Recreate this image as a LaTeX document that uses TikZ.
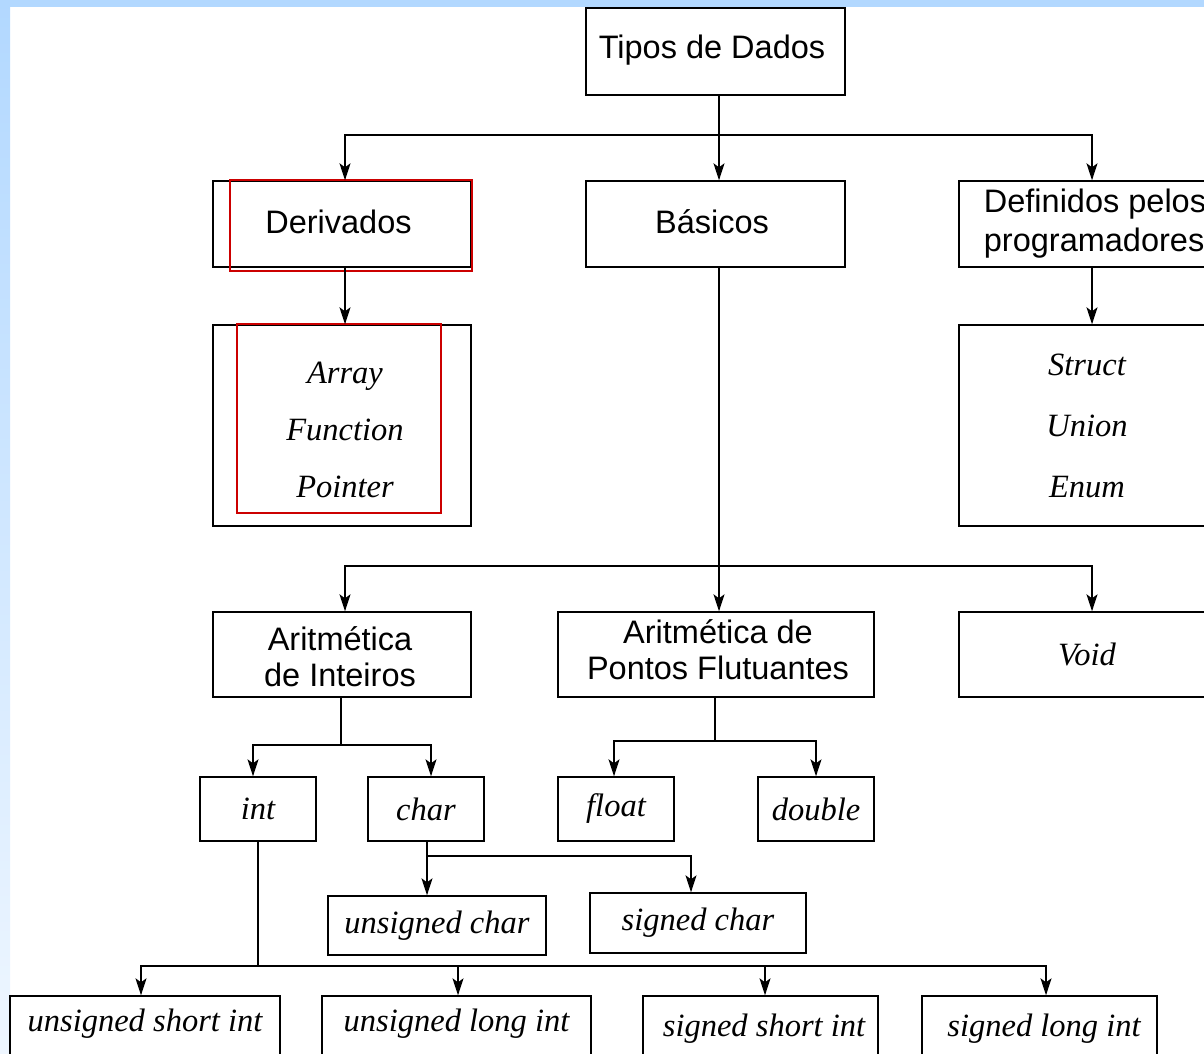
\documentclass[tikz,border=0pt]{standalone}
\usepackage{fontspec}
\setmainfont{Liberation Serif}
\setsansfont{Liberation Sans}
\usetikzlibrary{arrows.meta}
\definecolor{stripblue}{HTML}{B2D8FF}
\definecolor{stripfade}{HTML}{EEF6FF}
\definecolor{boxred}{HTML}{CC0000}
\begin{document}
\begin{tikzpicture}[x=1pt,y=-1pt,
  box/.style={draw=black,line width=1.4pt,inner sep=0pt,anchor=center},
  sanslbl/.style={font=\sffamily\fontsize{32.5}{36}\selectfont,align=center},
  itlbl/.style={font=\itshape\fontsize{32.5}{36}\selectfont,align=center},
  conn/.style={draw=black,line width=1.4pt},
  arr/.style={conn,-{Stealth[length=17pt,width=11pt,inset=4pt]}},
  redbox/.style={draw=boxred,line width=2.4pt}]
\useasboundingbox (0,0) rectangle (1204,1053);
\clip (0,0) rectangle (1204,1053);
\fill[white] (0,0) rectangle (1204,1053);
\shade[top color=stripblue,bottom color=stripfade] (0,0) rectangle (10,1053);
\fill[stripblue] (0,0) rectangle (1204,7);

% top level
\node[box,minimum width=259pt,minimum height=87pt] (tipos) at (715.5,51.5) {};
\node[sanslbl] (tipostxt) at (712,50) {Tipos de Dados};
% second level
\node[box,minimum width=258pt,minimum height=86pt] (deriv) at (342,224) {};
\node[sanslbl] (derivtxt) at (338.5,222) {Derivados};
\node[box,minimum width=259pt,minimum height=86pt] (basic) at (715.5,224) {};
\node[sanslbl] (basictxt) at (712,222) {Básicos};
\node[box,minimum width=266pt,minimum height=86pt] (defin) at (1092,224) {};
\node[sanslbl,align=left,font=\sffamily\fontsize{32.5}{39}\selectfont] (defintxt) at (1095,224) {Definidos pelos\\programadores};
% derived / user defined
\node[box,minimum width=258pt,minimum height=201pt] (array) at (342,425.5) {};
\node[itlbl,font=\itshape\fontsize{32.5}{57}\selectfont] (arraytxt) at (345,430) {Array\\Function\\Pointer};
\node[box,minimum width=266pt,minimum height=201pt] (struct) at (1092,425.5) {};
\node[itlbl,font=\itshape\fontsize{32.5}{61}\selectfont] (structtxt) at (1087,426) {Struct\\Union\\Enum};
% red highlight rectangles
\draw[redbox] (230,180) rectangle (472,271);
\draw[redbox] (237,324) rectangle (441,513);
% third level
\node[box,minimum width=258pt,minimum height=85pt] (arint) at (342,654.5) {};
\node[sanslbl] (arinttxt) at (340,657) {Aritmética\\de Inteiros};
\node[box,minimum width=316pt,minimum height=85pt] (arpf) at (716,654.5) {};
\node[sanslbl] (arpftxt) at (718,650) {Aritmética de\\Pontos Flutuantes};
\node[box,minimum width=266pt,minimum height=85pt] (void) at (1092,654.5) {};
\node[itlbl] (voidtxt) at (1087,654.5) {Void};
% fourth level
\node[box,itlbl,minimum width=116pt,minimum height=64pt] (int) at (258,809) {int};
\node[box,itlbl,minimum width=116pt,minimum height=64pt] (char) at (426,809) {char};
\node[box,itlbl,minimum width=116pt,minimum height=64pt] (float) at (616,809) {float};
\node[box,itlbl,minimum width=116pt,minimum height=64pt] (double) at (816,809) {double};
% char children
\node[box,itlbl,minimum width=218pt,minimum height=59pt] (uchar) at (437,925.5) {unsigned char};
\node[box,itlbl,minimum width=216pt,minimum height=60pt] (schar) at (698,923) {signed char};
% int children
\node[box,minimum width=270pt,minimum height=66pt] (ushort) at (145,1029) {};
\node[itlbl] (ushorttxt) at (145,1024) {unsigned short int};
\node[box,minimum width=269pt,minimum height=66pt] (ulong) at (456.5,1029) {};
\node[itlbl] (ulongtxt) at (456.5,1024) {unsigned long int};
\node[box,minimum width=235pt,minimum height=66pt] (sshort) at (760.5,1029) {};
\node[itlbl] (sshorttxt) at (764,1029) {signed short int};
\node[box,minimum width=235pt,minimum height=66pt] (slong) at (1039.5,1029) {};
\node[itlbl] (slongtxt) at (1044,1029) {signed long int};

% connectors
\coordinate (b1) at ([xshift=3.5pt]tipos.south |- 0,135);
\draw[conn] ([xshift=3.5pt]tipos.south) -- (b1);
\draw[arr] (b1) -| ([xshift=3pt]deriv.north);
\draw[arr] (b1) -- ([xshift=3.5pt]basic.north);
\draw[arr] (b1) -| (defin.north);
\draw[arr] ([xshift=3pt]deriv.south) -- ([xshift=3pt]array.north);
\draw[arr] (defin.south) -- (struct.north);

\coordinate (b2) at ([xshift=3.5pt]basic.south |- 0,566);
\draw[conn] ([xshift=3.5pt]basic.south) -- (b2);
\draw[arr] (b2) -| ([xshift=3pt]arint.north);
\draw[arr] (b2) -- ([xshift=3pt]arpf.north);
\draw[arr] (b2) -| (void.north);

\coordinate (b3) at ([xshift=-1pt]arint.south |- 0,745);
\draw[conn] ([xshift=-1pt]arint.south) -- (b3);
\draw[arr] (b3) -| ([xshift=-5pt]int.north);
\draw[arr] (b3) -| ([xshift=5pt]char.north);

\coordinate (b4) at ([xshift=-1pt]arpf.south |- 0,741);
\draw[conn] ([xshift=-1pt]arpf.south) -- (b4);
\draw[arr] (b4) -| ([xshift=-2pt]float.north);
\draw[arr] (b4) -| (double.north);

\coordinate (b5) at ([xshift=1pt]char.south |- 0,856);
\draw[conn] ([xshift=1pt]char.south) -- (b5);
\draw[arr] (b5) -- ([xshift=-10pt]uchar.north);
\draw[arr] (b5) -| ([xshift=-7pt]schar.north);

\coordinate (b6) at (int.south |- 0,966);
\draw[conn] (int.south) -- (b6);
\draw[arr] (b6) -| ([xshift=-4pt]ushort.north);
\draw[arr] (b6) -| ([xshift=1.5pt]ulong.north);
\draw[arr] (b6) -| ([xshift=4.5pt]sshort.north);
\draw[arr] (b6) -| ([xshift=6.5pt]slong.north);
\end{tikzpicture}
\end{document}
